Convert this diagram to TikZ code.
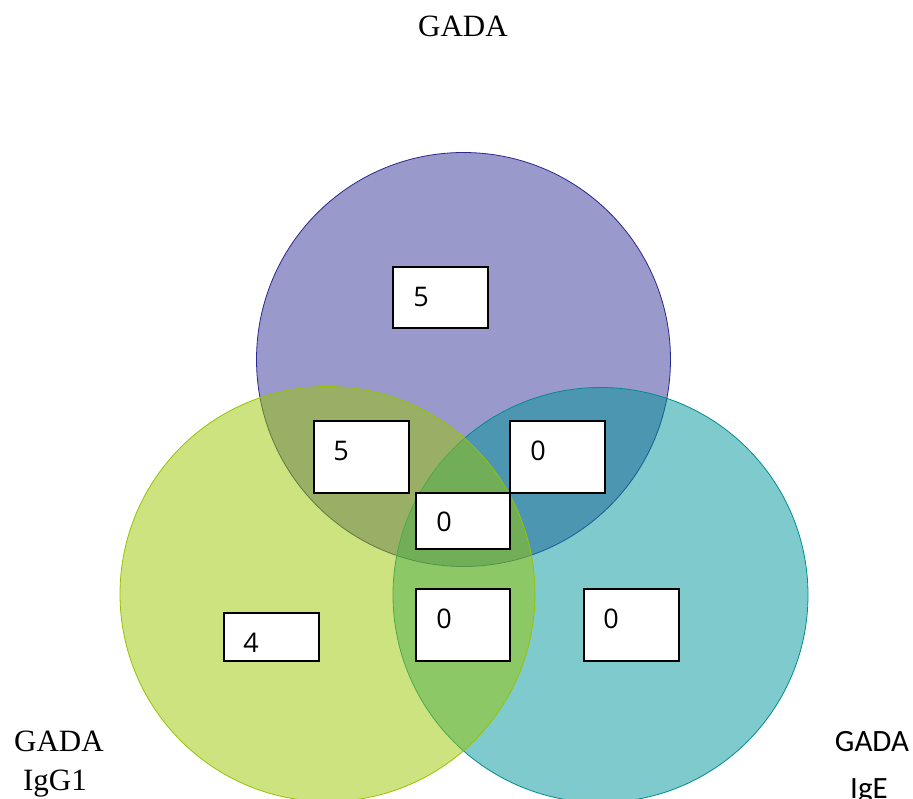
\documentclass[tikz,border=0pt]{standalone}
\usepackage{fontspec}
\setmainfont{Liberation Serif}
\newfontfamily\carl{Carlito}
\newfontfamily\numf{Open Sans}
\begin{document}
\begin{tikzpicture}[x=1pt,y=-1pt,
  setA/.style={fill={rgb,255:red,51;green,51;blue,153},fill opacity=0.5,draw={rgb,255:red,40;green,40;blue,140},line width=0.8pt},
  setB/.style={fill={rgb,255:red,153;green,199;blue,0},fill opacity=0.5,draw={rgb,255:red,150;green,195;blue,0},line width=0.8pt},
  setC/.style={fill={rgb,255:red,0;green,149;blue,153},fill opacity=0.5,draw={rgb,255:red,0;green,140;blue,145},line width=0.8pt},
  numbox/.style={draw=black,fill=white,line width=2.5pt,inner sep=0pt},
  numtxt/.style={font=\numf\fontsize{27}{30}\selectfont,inner sep=0pt},
  serlab/.style={font=\fontsize{31}{36}\selectfont,inner sep=0pt,anchor=base},
  sanslab/.style={font=\carl\fontsize{31}{36}\selectfont,inner sep=0pt,anchor=base}]
\useasboundingbox (0,0) rectangle (913,799);
\clip (0,0) rectangle (913,799);
% circles
\draw[setA] (463.5,359.5) circle[radius=207];
\draw[setC] (600.5,595) circle[radius=207.5];
\draw[setB] (327.5,594) circle[radius=207.5];
% boxes
\node[numbox,minimum width=95pt,minimum height=61pt] (b1) at (440.5,297.5) {};
\node[numtxt] (t1) at (421,297) {5};
\node[numbox,minimum width=95pt,minimum height=72pt] (b2) at (361.5,457) {};
\node[numtxt] (t2) at (341,451) {5};
\node[numbox,minimum width=95pt,minimum height=72pt] (b3) at (557.5,457) {};
\node[numtxt] (t3) at (538,451) {0};
\node[numbox,minimum width=94pt,minimum height=56pt] (b4) at (463,521) {};
\node[numtxt] (t4) at (444,522) {0};
\node[numbox,minimum width=94pt,minimum height=72pt] (b5) at (463,625) {};
\node[numtxt] (t5) at (444,619) {0};
\node[numbox,minimum width=95pt,minimum height=72pt] (b6) at (631.5,625) {};
\node[numtxt] (t6) at (611,619) {0};
\node[numbox,minimum width=95pt,minimum height=48pt] (b7) at (271.5,637) {};
\node[numtxt] (t7) at (251,643) {4};
% labels
\node[serlab] (l1) at (463,37) {GADA};
\node[serlab] (l2) at (59,751) {GADA};
\node[serlab] (l3) at (55,790) {IgG1};
\node[sanslab] (l4) at (872,751) {GADA};
\node[sanslab] (l5) at (869,798) {IgE};
\end{tikzpicture}
\end{document}
